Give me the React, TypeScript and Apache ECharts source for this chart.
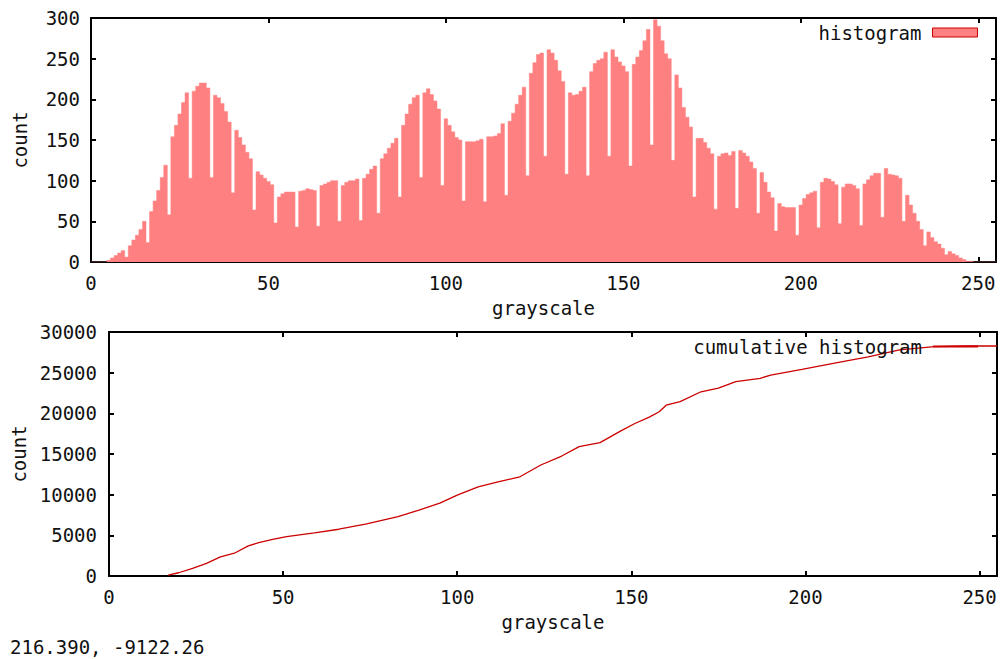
import React, { useEffect, useRef } from "react";
import * as echarts from "echarts";

// Histogram counts for gray levels 0..255
const histogramCounts: number[] = [
  0, 0, 0, 0, 0, // 0-4
  2, 5, 8, 11, 14, 6, // 5-10
  20, 27, 33, 40, 50, 24, // 11-16
  62, 75, 88, 104, 119, 58, // 17-22
  154, 168, 182, 196, 208, 103, // 23-28
  210, 216, 220, 220, 214, 104, // 29-34
  205, 202, 195, 185, 172, 85, // 35-40
  162, 153, 144, 135, 127, 64, // 41-46
  111, 107, 103, 99, 95, 48, // 47-52
  80, 84, 86, 86, 86, 43, // 53-58
  87, 88, 90, 89, 88, 44, // 59-64
  94, 96, 98, 100, 100, 50, // 65-70
  94, 98, 100, 100, 102, 51, // 71-76
  103, 108, 114, 118, 60, // 77-81
  127, 133, 140, 146, 152, 80, // 82-87
  168, 182, 194, 202, 205, 104, // 88-93
  208, 213, 206, 198, 188, 94, // 94-99
  176, 168, 160, 153, 150, 75, // 100-105
  148, 148, 148, 149, 151, 74, // 106-111
  154, 154, 155, 158, 170, 82, // 112-117
  173, 183, 194, 205, 215, 106, // 118-123
  232, 245, 255, 257, 130, // 124-128
  261, 257, 248, 235, 222, 108, // 129-134
  208, 205, 206, 210, 215, 106, // 135-140
  234, 244, 248, 250, 258, 130, // 141-146
  261, 252, 246, 241, 234, 118, // 147-152
  243, 252, 260, 272, 286, 144, // 153-158
  298, 290, 272, 256, 250, 125, // 159-164
  230, 214, 190, 178, 166, 80, // 165-170
  152, 152, 147, 140, 133, 65, // 171-176
  130, 133, 134, 131, 136, 66, // 177-182
  137, 134, 130, 123, 115, 60, // 183-188
  110, 98, 86, 79, 38, // 189-193
  72, 68, 67, 67, 67, 33, // 194-199
  70, 78, 83, 85, 87, 42, // 200-205
  98, 103, 102, 99, 95, 47, // 206-211
  92, 96, 96, 94, 90, 45, // 212-217
  96, 101, 106, 109, 109, 55, // 218-223
  115, 108, 107, 106, 103, 50, // 224-229
  82, 70, 60, 50, 40, 20, // 230-235
  37, 30, 25, 22, 17, 9, // 236-241
  13, 10, 8, 5, 3, 1, // 242-247
  1, 0, 0, 0, 0, 0, 0, 0, // 248-255
];

// Cumulative histogram
const cumulativeGray: number[] = [
  17, 20, 24, 28, 32, 36, 40, 43, 47, 51, 59, 66, 74, 83, 89, 95, 100, 106,
  112, 118, 124, 130, 135, 141, 147, 151, 155, 158, 160, 164, 170, 175, 180,
  187, 190, 199, 208, 218, 227, 237, 246, 255,
];
const cumulativeCounts: number[] = [
  100, 400, 950, 1550, 2350, 2800, 3700, 4100, 4500, 4850, 5300, 5750, 6400,
  7300, 8100, 8950, 9950, 10950, 11600, 12200, 13650, 14750, 15900, 16400,
  17850, 18750, 19500, 20200, 21000, 21450, 22650, 23100, 23900, 24300, 24700,
  25400, 26150, 26950, 27800, 28200, 28280, 28280,
];

const xTicks = [0, 50, 100, 150, 200, 250];
const statusText = "216.390, -9122.26";

const FONT = '"DejaVu Sans Mono", monospace';
const FS = 19;
const INK = "#111";
const BAR = "#ff8080";
const LINE = "#cc0000";

const axisLineStyle = { show: true, onZero: false, lineStyle: { color: "#000", width: 2 } };
const axisTickStyle = { show: true, inside: true, length: 5, lineStyle: { color: "#000", width: 2 } };

function xAxes(grid: number, title: string) {
  return [
    {
      gridIndex: grid,
      type: "value",
      min: 0,
      max: 255,
      interval: 50,
      position: "bottom",
      name: title,
      nameLocation: "middle",
      nameGap: 36,
      nameTextStyle: { fontFamily: FONT, fontSize: FS, color: INK },
      axisLine: axisLineStyle,
      axisTick: axisTickStyle,
      splitLine: { show: false },
      axisLabel: {
        margin: 11,
        fontFamily: FONT,
        fontSize: FS,
        color: INK,
        formatter: (v: number) => (xTicks.includes(v) ? String(v) : ""),
      },
    },
    {
      gridIndex: grid,
      type: "value",
      min: 0,
      max: 255,
      interval: 50,
      position: "top",
      axisLine: axisLineStyle,
      axisTick: axisTickStyle,
      splitLine: { show: false },
      axisLabel: { show: false },
    },
  ];
}

function yAxes(grid: number, max: number, interval: number, nameGap: number, margin: number) {
  return [
    {
      gridIndex: grid,
      type: "value",
      min: 0,
      max,
      interval,
      position: "left",
      name: "count",
      nameLocation: "middle",
      nameGap,
      nameTextStyle: { fontFamily: FONT, fontSize: FS, color: INK },
      axisLine: axisLineStyle,
      axisTick: axisTickStyle,
      splitLine: { show: false },
      axisLabel: {
        margin,
        fontFamily: FONT,
        fontSize: FS,
        color: INK,
        formatter: (v: number) => String(v),
      },
    },
    {
      gridIndex: grid,
      type: "value",
      min: 0,
      max,
      interval,
      position: "right",
      axisLine: axisLineStyle,
      axisTick: axisTickStyle,
      splitLine: { show: false },
      axisLabel: { show: false },
    },
  ];
}

export default function App() {
  const ref = useRef<HTMLDivElement>(null);

  useEffect(() => {
    if (!ref.current) return;
    const chart = echarts.init(ref.current, undefined, { renderer: "svg" });
    const histData = histogramCounts.map((v, i) => [i, v]);
    const cumData = cumulativeGray.map((g, i) => [g, cumulativeCounts[i]]);

    chart.setOption({
      animation: false,
      backgroundColor: "#fff",
      textStyle: { fontFamily: FONT },
      grid: [
        { left: 91, top: 18, width: 905, height: 244 },
        { left: 109, top: 332, width: 888, height: 244 },
      ],
      xAxis: [...xAxes(0, "grayscale"), ...xAxes(1, "grayscale")],
      yAxis: [...yAxes(0, 300, 50, 62, 11), ...yAxes(1, 30000, 5000, 80, 12)],
      legend: [
        {
          data: ["histogram"],
          right: 26,
          top: 23,
          padding: 0,
          align: "right",
          icon: "rect",
          itemWidth: 45,
          itemHeight: 9,
          itemStyle: { color: BAR, borderColor: LINE, borderWidth: 1 },
          textStyle: { fontFamily: FONT, fontSize: FS, color: INK, padding: [0, 6, 0, 0] },
          selectedMode: false,
        },
        {
          data: ["cumulative histogram"],
          right: 26,
          top: 337,
          padding: 0,
          align: "right",
          icon: "rect",
          itemWidth: 45,
          itemHeight: 2,
          textStyle: { fontFamily: FONT, fontSize: FS, color: INK, padding: [0, 6, 0, 0] },
          selectedMode: false,
        },
      ],
      series: [
        {
          // drawn as filled boxes (step outline with area) so adjacent bins join seamlessly
          name: "histogram",
          type: "line",
          step: "middle",
          xAxisIndex: 0,
          yAxisIndex: 0,
          data: histData,
          symbol: "none",
          lineStyle: { color: BAR, width: 0.5 },
          itemStyle: { color: BAR },
          areaStyle: { color: BAR, opacity: 1 },
        },
        {
          name: "cumulative histogram",
          type: "line",
          xAxisIndex: 2,
          yAxisIndex: 2,
          data: cumData,
          symbol: "none",
          lineStyle: { color: LINE, width: 1.3 },
          itemStyle: { color: LINE },
        },
      ],
      graphic: [
        {
          type: "text",
          left: 10,
          top: 637,
          style: { text: statusText, font: `${FS}px ${FONT}`, fill: INK },
        },
      ],
    });
    return () => chart.dispose();
  }, []);

  return (
    <div
      ref={ref}
      style={{ position: "fixed", left: 0, top: 0, width: 1004, height: 659, background: "#fff" }}
    />
  );
}
